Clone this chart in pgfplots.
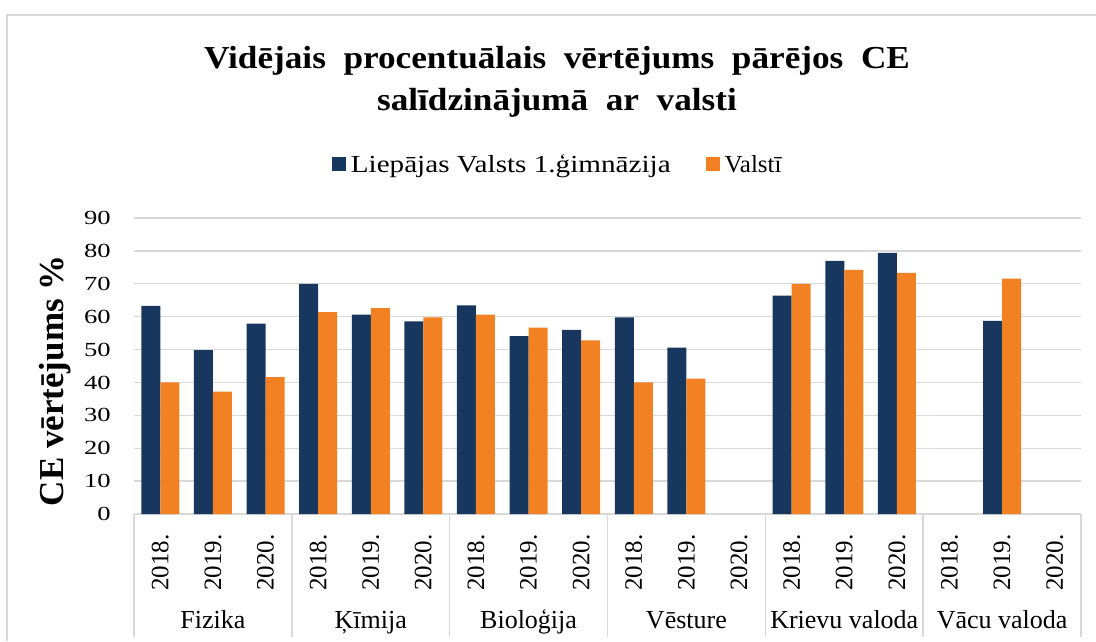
\documentclass[border=0pt]{standalone}
\usepackage{fontspec}
\setmainfont{Liberation Serif}
\newfontfamily\ytickfont{Liberation Serif}[FakeStretch=1.33]
\newfontfamily\titlefont{Liberation Serif}[FakeStretch=1.10]
\newfontfamily\legfontA{Liberation Serif}[FakeStretch=1.19]
\newfontfamily\legfontB{Liberation Serif}[FakeStretch=1.02]
\usepackage{pgfplots}
\pgfplotsset{compat=1.18}
\definecolor{navy}{HTML}{17375E}
\definecolor{orng}{HTML}{F28123}
\definecolor{gridc}{HTML}{D9D9D9}
\pgfplotstableread{
x lvg
0 63.3
1 49.8
2 57.9
3 70.0
4 60.6
5 58.6
6 63.4
7 54.1
8 56.0
9 59.8
10 50.6
12 66.4
13 77.0
14 79.4
16 58.7
}\lvgdata
\pgfplotstableread{
x val
0 40.0
1 37.2
2 41.6
3 61.4
4 62.6
5 59.8
6 60.6
7 56.7
8 52.8
9 40.0
10 41.2
12 70.0
13 74.2
14 73.3
16 71.6
}\valdata
\begin{document}
\begin{tikzpicture}
\useasboundingbox (0pt,0pt) rectangle (1096pt,-641pt);
\draw[gridc, line width=1.5pt] (7pt,-641pt) -- (7pt,-15pt) -- (1096pt,-15pt);
\node[font=\titlefont\bfseries\fontsize{32}{38}\selectfont, anchor=base] at (557pt,-68pt) {Vidējais\ \ procentuālais\ \ vērtējums\ \ pārējos\ \ CE};
\node[font=\titlefont\bfseries\fontsize{32}{38}\selectfont, anchor=base] at (557pt,-110pt) {salīdzinājumā\ \ ar\ \ valsti};
\begin{axis}[
  at={(134pt,-514pt)}, anchor=south west,
  scale only axis, width=947pt, height=296pt,
  xmin=-0.5, xmax=17.5, ymin=0, ymax=90,
  ybar=0pt, bar width=19pt,
  axis line style={draw=none},
  major tick style={draw=none},
  ytick={0,10,...,90},
  ymajorgrids, grid style={gridc, line width=1.4pt},
  /pgf/number format/assume math mode=true,
  yticklabel style={font=\ytickfont\fontsize{20}{20}\selectfont, anchor=east, inner sep=0pt},
  yticklabel shift=23pt,
  xtick={0,...,17},
  xticklabels={2018.,2019.,2020.,2018.,2019.,2020.,2018.,2019.,2020.,2018.,2019.,2020.,2018.,2019.,2020.,2018.,2019.,2020.},
  xticklabel style={rotate=90, anchor=east, inner sep=0pt, font=\fontsize{25}{25}\selectfont},
  xticklabel shift=16pt,
  ylabel={CE vērtējums \%},
  ylabel style={at={(axis description cs:-0.0834,0.45)}, anchor=center, font=\bfseries\fontsize{35}{35}\selectfont},
  legend style={at={(axis description cs:0.449,1.18)}, anchor=center, draw=none, fill=none,
    legend columns=2, font=\fontsize{24.5}{24.5}\selectfont,
    nodes={inner xsep=5pt},
    /tikz/every even column/.append style={column sep=30pt}},
  legend image code/.code={\fill[#1] (0pt,-6pt) rectangle (14pt,8pt);},
  clip=false,
]
\addplot[fill=navy, draw=none] table[x=x, y=lvg] {\lvgdata};
\addlegendentry{\legfontA Liepājas Valsts 1.ģimnāzija}
\addplot[fill=orng, draw=none] table[x=x, y=val] {\valdata};
\addlegendentry{\legfontB Valstī}
\foreach \s in {-0.5,2.5,5.5,8.5,11.5,14.5,17.5} {
  \edef\temp{\noexpand\draw[gridc, line width=1.4pt] (axis cs:\s,0) -- ++(0pt,-123pt);}
  \temp
}
\foreach \c/\n in {1/Fizika,4/Ķīmija,7/Bioloģija,10/Vēsture,13/Krievu valoda,16/Vācu valoda} {
  \edef\temp{\noexpand\node[font=\noexpand\fontsize{26}{26}\noexpand\selectfont, anchor=base, yshift=-114pt] at (axis cs:\c,0) {\n};}
  \temp
}
\end{axis}
\end{tikzpicture}
\end{document}
